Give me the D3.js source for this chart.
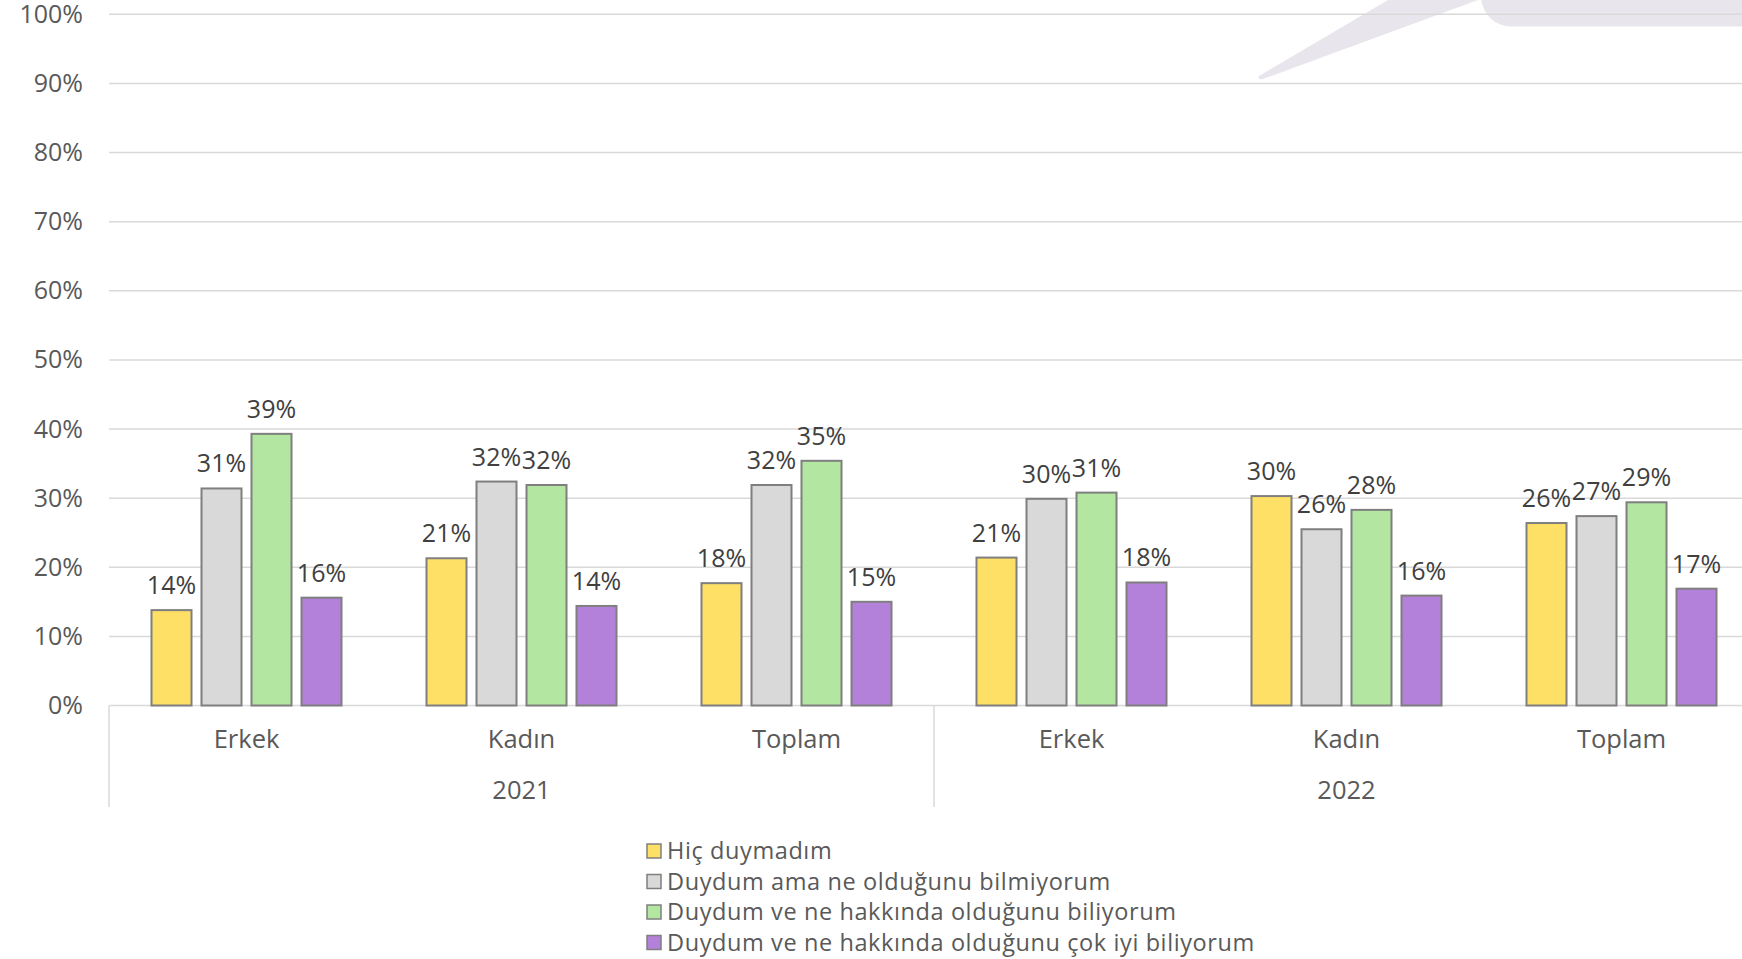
<!DOCTYPE html>
<html>
<head>
<meta charset="utf-8">
<script src="https://cdn.jsdelivr.net/npm/d3@7"></script>
<style>
  html, body { margin: 0; padding: 0; background: #fff; overflow: hidden; }
  svg { display: block; }
  text { font-family: "Open Sans", "Noto Sans", sans-serif; }
</style>
</head>
<body>
<div id="chart"></div>
<script>
const years = ["2021", "2022"];
const groups = ["Erkek", "Kadın", "Toplam"];
const series = [
  "Hiç duymadım",
  "Duydum ama ne olduğunu bilmiyorum",
  "Duydum ve ne hakkında olduğunu biliyorum",
  "Duydum ve ne hakkında olduğunu çok iyi biliyorum"
];
const colors = ["#FFE066", "#D9D9D9", "#B3E6A1", "#B381D9"];
// values per series, in order: 2021 Erkek, Kadın, Toplam, 2022 Erkek, Kadın, Toplam
const hicDuymadim   = [13.8, 21.3, 17.7, 21.4, 30.3, 26.4];
const duydumAma     = [31.4, 32.4, 31.9, 29.9, 25.5, 27.4];
const duydumBiliyor = [39.3, 31.9, 35.4, 30.8, 28.3, 29.4];
const duydumCokIyi  = [15.6, 14.4, 15.0, 17.8, 15.9, 16.9];
const yTicks = [0, 10, 20, 30, 40, 50, 60, 70, 80, 90, 100];

const seriesValues = [hicDuymadim, duydumAma, duydumBiliyor, duydumCokIyi];
const cats = [];
years.forEach(y => groups.forEach(g => cats.push({ key: y + "|" + g, year: y, group: g })));
const data = cats.map((c, i) => ({ ...c, values: seriesValues.map((s, j) => ({ name: series[j], color: colors[j], v: s[i] })) }));

const W = 1742, H = 959;
const plotLeft = 109, plotTop = 14.3, plotBottom = 705.5;
const step = 275;
const svg = d3.select("#chart").append("svg").attr("width", W).attr("height", H);

// decorative callout shape in the top right
svg.append("path")
  .attr("d", "M1388,0 L1259,76 Q1257,80 1263,79 L1478,0 Z")
  .attr("fill", "#E9E5EC");
svg.append("path")
  .attr("d", "M1481.3,0 A30,30 0 0 0 1511,26.5 L1742,26.5 L1742,0 Z")
  .attr("fill", "#E9E5EC");

const x0 = d3.scaleBand().domain(cats.map(c => c.key)).range([plotLeft, plotLeft + step * cats.length]).paddingInner(0).paddingOuter(0);
const x1 = d3.scaleBand().domain(series).range([0, x0.bandwidth()]).paddingInner(0.2).paddingOuter(0.85);
const y = d3.scaleLinear().domain([0, 100]).range([plotBottom, plotTop]);

// gridlines
svg.append("g").selectAll("line").data(yTicks).join("line")
  .attr("x1", plotLeft).attr("x2", W)
  .attr("y1", d => y(d)).attr("y2", d => y(d))
  .attr("stroke", "#D9D9D9").attr("stroke-width", 1.5);

// y axis labels
const yAxis = d3.axisLeft(y).tickValues(yTicks).tickFormat(d => d + "%").tickSize(0).tickPadding(0);
const ya = svg.append("g").attr("transform", `translate(${plotLeft - 26},0)`).call(yAxis);
ya.select(".domain").remove();
ya.selectAll("text").attr("font-size", 25).attr("fill", "#595959").attr("font-family", "'Open Sans', sans-serif");

// bars
const g = svg.append("g").selectAll("g").data(data).join("g")
  .attr("transform", d => `translate(${x0(d.key)},0)`);
g.selectAll("rect").data(d => d.values).join("rect")
  .attr("x", d => x1(d.name)).attr("width", x1.bandwidth())
  .attr("y", d => y(d.v)).attr("height", d => y(0) - y(d.v))
  .attr("fill", d => d.color).attr("stroke", "#7F7F7F").attr("stroke-width", 2);
g.selectAll("text").data(d => d.values).join("text")
  .attr("x", d => x1(d.name) + x1.bandwidth() / 2)
  .attr("y", d => y(d.v) - 16)
  .attr("text-anchor", "middle").attr("font-size", 25).attr("fill", "#404040")
  .text(d => Math.round(d.v) + "%");

// category axis
svg.append("g").selectAll("text").data(cats).join("text")
  .attr("x", d => x0(d.key) + x0.bandwidth() / 2).attr("y", 748)
  .attr("text-anchor", "middle").attr("font-size", 25.5).attr("fill", "#595959")
  .text(d => d.group);
const yearScale = d3.scaleBand().domain(years).range([plotLeft, plotLeft + step * cats.length]);
svg.append("g").selectAll("text").data(years).join("text")
  .attr("x", d => yearScale(d) + yearScale.bandwidth() / 2).attr("y", 799)
  .attr("text-anchor", "middle").attr("font-size", 25.5).attr("fill", "#595959")
  .text(d => d);
svg.append("g").selectAll("line").data(years).join("line")
  .attr("x1", d => yearScale(d)).attr("x2", d => yearScale(d))
  .attr("y1", plotBottom).attr("y2", 807)
  .attr("stroke", "#D9D9D9").attr("stroke-width", 1.5);

// legend
const lg = svg.append("g").attr("transform", "translate(647,0)");
const li = lg.selectAll("g").data(series).join("g")
  .attr("transform", (d, i) => `translate(0,${851 + i * 30.5})`);
li.append("rect").attr("x", 0).attr("y", -7).attr("width", 14).attr("height", 14)
  .attr("fill", (d, i) => colors[i]).attr("stroke", "#7F7F7F").attr("stroke-width", 1.5);
li.append("text").attr("x", 20).attr("y", 8.3).attr("font-size", 23.5).attr("letter-spacing", 0.6).attr("fill", "#595959")
  .text(d => d);
</script>
</body>
</html>
